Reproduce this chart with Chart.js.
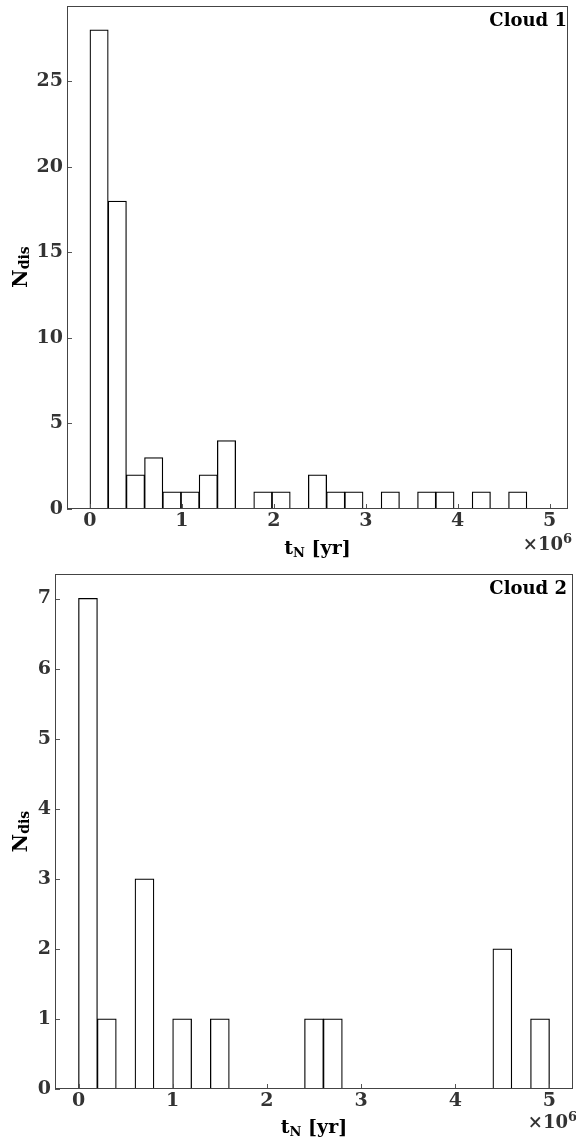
<!DOCTYPE html>
<html>
<head>
<meta charset="utf-8">
<script src="https://cdn.jsdelivr.net/npm/chart.js@4/dist/chart.umd.min.js"></script>
<style>
  html, body { margin: 0; padding: 0; background: #fff; }
  #page { position: relative; width: 576px; height: 1140px; }
  canvas { display: block; position: absolute; left: 0; }
  #cloud1Chart { top: 0; }
  #cloud2Chart { top: 556px; }
</style>
</head>
<body>
<div id="page">
<canvas id="cloud1Chart" width="576" height="562"></canvas>
<canvas id="cloud2Chart" width="576" height="584"></canvas>
</div>
<script>
// Cloud 1 のヒストグラム（25ビン, 単位 10^6 yr）
const cloud1Counts = [28, 18, 2, 3, 1, 1, 2, 4, 0, 1, 1, 0, 2, 1, 1, 0, 1, 0, 1, 1, 0, 1, 0, 1, 0];
const cloud1BinWidth = 0.198;
// Cloud 2 のヒストグラム
const cloud2Counts = [7, 1, 0, 3, 0, 1, 0, 1, 0, 0, 0, 0, 1, 1, 0, 0, 0, 0, 0, 0, 0, 0, 2, 0, 1];
const cloud2BinWidth = 0.2;

// 目盛り
const xTicks = [0, 1, 2, 3, 4, 5];
const cloud1YTicks = [0, 5, 10, 15, 20, 25];
const cloud2YTicks = [0, 1, 2, 3, 4, 5, 6, 7];

const FONT = "'DejaVu Serif', serif";

// 枠線・内向き目盛り・ラベルを描くプラグイン
function decorPlugin(o) {
  return {
    id: 'decor',
    afterDraw(chart) {
      const { ctx, chartArea: a, scales: { x, y } } = chart;
      ctx.save();
      ctx.strokeStyle = '#555';
      ctx.lineWidth = 1;
      ctx.beginPath();
      x.ticks.forEach((t) => {
        const px = Math.round(x.getPixelForValue(t.value)) + 0.5;
        ctx.moveTo(px, a.bottom);
        ctx.lineTo(px, a.bottom - 5);
      });
      y.ticks.forEach((t) => {
        const py = Math.round(y.getPixelForValue(t.value)) + 0.5;
        ctx.moveTo(a.left, py);
        ctx.lineTo(a.left + 5, py);
      });
      ctx.stroke();

      // 枠
      ctx.strokeStyle = '#444';
      ctx.strokeRect(Math.round(a.left) + 0.5, Math.round(a.top) + 0.5,
        Math.round(a.right - a.left) - 1, Math.round(a.bottom - a.top) - 1);

      ctx.fillStyle = '#000';
      ctx.textBaseline = 'alphabetic';

      // Cloud ラベル
      ctx.font = `bold 18px ${FONT}`;
      ctx.textAlign = 'right';
      ctx.fillText(o.cloud, o.cloudX, o.cloudY);

      // x 軸タイトル t_N [yr]
      ctx.textAlign = 'left';
      ctx.font = `bold 19px ${FONT}`;
      const wt = ctx.measureText('t').width;
      const wyr = ctx.measureText(' [yr]').width;
      ctx.font = `bold 13px ${FONT}`;
      const wN = ctx.measureText('N').width;
      let sx = (a.left + a.right) / 2 - (wt + wN + wyr) / 2;
      ctx.font = `bold 19px ${FONT}`;
      ctx.fillText('t', sx, o.xTitleY);
      ctx.font = `bold 13px ${FONT}`;
      ctx.fillText('N', sx + wt, o.xTitleY + 3);
      ctx.font = `bold 19px ${FONT}`;
      ctx.fillText(' [yr]', sx + wt + wN, o.xTitleY);

      // ×10^6
      ctx.fillStyle = '#333';
      ctx.font = `bold 18px ${FONT}`;
      const w10 = ctx.measureText('×10').width;
      ctx.font = `bold 13px ${FONT}`;
      const w6 = ctx.measureText('6').width;
      const ex = a.right + 4 - w10 - w6;
      ctx.font = `bold 18px ${FONT}`;
      ctx.fillText('×10', ex, o.offsetY);
      ctx.font = `bold 13px ${FONT}`;
      ctx.fillText('6', ex + w10, o.offsetY - 7);

      // y 軸タイトル N_dis
      ctx.fillStyle = '#000';
      ctx.translate(27, o.yTitleY);
      ctx.rotate(-Math.PI / 2);
      ctx.font = `bold 20px ${FONT}`;
      const wBig = ctx.measureText('N').width;
      ctx.font = `bold 14px ${FONT}`;
      const wDis = ctx.measureText('dis').width;
      const sy = -(wBig + wDis) / 2;
      ctx.font = `bold 20px ${FONT}`;
      ctx.fillText('N', sy, 0);
      ctx.font = `bold 14px ${FONT}`;
      ctx.fillText('dis', sy + wBig, 2);
      ctx.restore();
    },
  };
}

function histConfig(counts, binWidth, yTicks, yMax, xMax, yWidth, xHeight, padding, decor) {
  return {
    type: 'bar',
    data: {
      datasets: [
        {
          data: counts.map((c, i) => ({ x: (i + 0.5) * binWidth, y: c })),
          backgroundColor: '#fff',
          borderColor: '#000',
          borderWidth: 1.25,
          borderSkipped: false,
          inflateAmount: 0.4,
          categoryPercentage: 1.0,
          barPercentage: 1.0,
        },
      ],
    },
    options: {
      responsive: false,
      animation: false,
      layout: { padding },
      plugins: {
        legend: { display: false },
        tooltip: { enabled: false },
      },
      scales: {
        x: {
          type: 'linear',
          offset: false,
          min: -0.25,
          max: xMax,
          grid: { display: false, drawTicks: false },
          border: { display: false },
          ticks: {
            color: '#333',
            padding: 1,
            maxRotation: 0,
            autoSkip: false,
            font: { family: FONT, size: 19, weight: 'bold' },
            callback: (v) => `${v}`,
          },
          afterBuildTicks: (s) => { s.ticks = xTicks.map((v) => ({ value: v })); },
          afterFit: (s) => { s.height = xHeight; s.paddingLeft = 0; s.paddingRight = 0; },
        },
        y: {
          min: 0,
          max: yMax,
          grid: { display: false, drawTicks: false },
          border: { display: false },
          ticks: {
            color: '#333',
            padding: 4,
            font: { family: FONT, size: 19, weight: 'bold' },
            callback: (v) => `${v}`,
          },
          afterBuildTicks: (s) => { s.ticks = yTicks.map((v) => ({ value: v })); },
          afterFit: (s) => { s.width = yWidth; s.paddingTop = 0; s.paddingBottom = 0; },
        },
      },
    },
    plugins: [decor],
  };
}

// Cloud 1 グラフの描画
new Chart(
  document.getElementById('cloud1Chart').getContext('2d'),
  histConfig(cloud1Counts, cloud1BinWidth, cloud1YTicks, 29.4, 5.2, 67, 53,
    { left: 0, top: 6, right: 8, bottom: 0 },
    decorPlugin({ cloud: 'Cloud 1', cloudX: 567, cloudY: 26, xTitleY: 554, offsetY: 550, yTitleY: 267 }))
);

// Cloud 2 グラフの描画
new Chart(
  document.getElementById('cloud2Chart').getContext('2d'),
  histConfig(cloud2Counts, cloud2BinWidth, cloud2YTicks, 7.35, 5.25, 55, 51,
    { left: 0, top: 18, right: 3, bottom: 0 },
    decorPlugin({ cloud: 'Cloud 2', cloudX: 567, cloudY: 38, xTitleY: 577, offsetY: 572, yTitleY: 275.5 }))
);
</script>
</body>
</html>
